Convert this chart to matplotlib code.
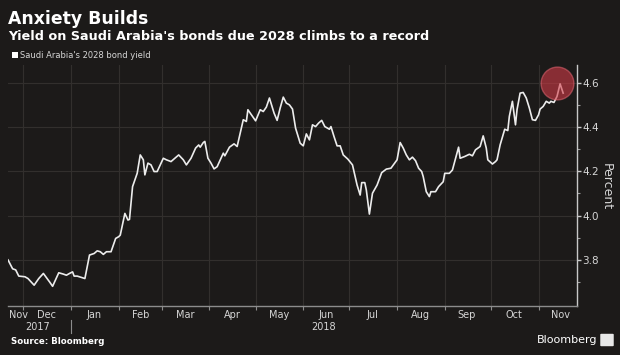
import matplotlib
matplotlib.use("Agg")
import matplotlib.pyplot as plt
import matplotlib.dates as mdates
import matplotlib.transforms as mtransforms
from matplotlib.patches import Rectangle, FancyBboxPatch
import pandas as pd

# ---------------- data ----------------
dates = [
    "2017-11-21", "2017-11-24", "2017-11-26", "2017-11-28", "2017-12-02", "2017-12-04",
    "2017-12-08", "2017-12-11", "2017-12-14", "2017-12-18", "2017-12-20", "2017-12-24",
    "2017-12-27", "2017-12-29", "2017-12-31", "2018-01-02", "2018-01-03", "2018-01-05",
    "2018-01-10", "2018-01-13", "2018-01-16", "2018-01-18", "2018-01-20", "2018-01-22",
    "2018-01-24", "2018-01-27", "2018-01-30", "2018-02-01", "2018-02-02", "2018-02-05",
    "2018-02-07", "2018-02-08", "2018-02-10", "2018-02-13", "2018-02-15", "2018-02-17",
    "2018-02-18", "2018-02-20", "2018-02-22", "2018-02-24", "2018-02-26", "2018-03-02",
    "2018-03-04", "2018-03-07", "2018-03-12", "2018-03-15", "2018-03-17", "2018-03-20",
    "2018-03-23", "2018-03-25", "2018-03-26", "2018-03-28", "2018-03-29", "2018-03-31",
    "2018-04-02", "2018-04-04", "2018-04-06", "2018-04-10", "2018-04-11", "2018-04-14",
    "2018-04-17", "2018-04-19", "2018-04-21", "2018-04-23", "2018-04-25", "2018-04-26",
    "2018-04-29", "2018-05-01", "2018-05-04", "2018-05-06", "2018-05-08", "2018-05-10",
    "2018-05-13", "2018-05-15", "2018-05-17", "2018-05-19", "2018-05-21", "2018-05-23",
    "2018-05-25", "2018-05-27", "2018-05-30", "2018-06-01", "2018-06-03", "2018-06-05",
    "2018-06-07", "2018-06-09", "2018-06-11", "2018-06-13", "2018-06-15", "2018-06-18",
    "2018-06-19", "2018-06-21", "2018-06-23", "2018-06-25", "2018-06-27", "2018-06-30",
    "2018-07-03", "2018-07-06", "2018-07-08", "2018-07-09", "2018-07-11", "2018-07-12",
    "2018-07-14", "2018-07-16", "2018-07-19", "2018-07-22", "2018-07-25", "2018-07-28",
    "2018-07-30", "2018-08-01", "2018-08-03", "2018-08-05", "2018-08-07", "2018-08-09",
    "2018-08-11", "2018-08-13", "2018-08-15", "2018-08-17", "2018-08-18", "2018-08-20",
    "2018-08-22", "2018-08-23", "2018-08-26", "2018-08-28", "2018-08-31", "2018-09-01",
    "2018-09-04", "2018-09-06", "2018-09-10", "2018-09-11", "2018-09-14", "2018-09-17",
    "2018-09-19", "2018-09-21", "2018-09-24", "2018-09-26", "2018-09-28", "2018-09-29",
    "2018-10-02", "2018-10-04", "2018-10-05", "2018-10-07", "2018-10-10", "2018-10-12",
    "2018-10-13", "2018-10-15", "2018-10-17", "2018-10-18", "2018-10-20", "2018-10-22",
    "2018-10-24", "2018-10-26", "2018-10-28", "2018-10-30", "2018-11-01", "2018-11-02",
    "2018-11-04", "2018-11-06", "2018-11-08", "2018-11-09", "2018-11-11", "2018-11-13",
    "2018-11-15", "2018-11-17",
]
yields = [
    3.800, 3.760, 3.755, 3.727, 3.724, 3.716,
    3.686, 3.716, 3.739, 3.701, 3.681, 3.742,
    3.736, 3.731, 3.739, 3.746, 3.727, 3.727,
    3.716, 3.822, 3.829, 3.841, 3.837, 3.825,
    3.837, 3.837, 3.897, 3.905, 3.912, 4.010,
    3.980, 3.983, 4.131, 4.191, 4.274, 4.252,
    4.184, 4.237, 4.229, 4.199, 4.199, 4.259,
    4.252, 4.244, 4.274, 4.252, 4.229, 4.259,
    4.305, 4.319, 4.309, 4.330, 4.335, 4.259,
    4.237, 4.211, 4.221, 4.282, 4.270, 4.309,
    4.324, 4.312, 4.372, 4.433, 4.425, 4.478,
    4.448, 4.428, 4.478, 4.470, 4.490, 4.531,
    4.463, 4.430, 4.486, 4.535, 4.508, 4.500,
    4.481, 4.395, 4.327, 4.315, 4.369, 4.342,
    4.410, 4.402, 4.418, 4.430, 4.402, 4.390,
    4.402, 4.357, 4.315, 4.315, 4.274, 4.255,
    4.229, 4.138, 4.093, 4.149, 4.149, 4.116,
    4.007, 4.101, 4.138, 4.194, 4.210, 4.214,
    4.233, 4.252, 4.330, 4.305, 4.274, 4.252,
    4.264, 4.248, 4.214, 4.199, 4.176, 4.108,
    4.086, 4.108, 4.108, 4.131, 4.153, 4.191,
    4.191, 4.206, 4.309, 4.259, 4.267, 4.277,
    4.270, 4.297, 4.312, 4.360, 4.305, 4.252,
    4.233, 4.244, 4.252, 4.319, 4.390, 4.384,
    4.448, 4.516, 4.410, 4.478, 4.553, 4.556,
    4.531, 4.486, 4.433, 4.430, 4.455, 4.481,
    4.493, 4.516, 4.508, 4.516, 4.511, 4.538,
    4.595, 4.553,
]

month_starts = ["2017-12-01", "2018-01-01", "2018-02-01", "2018-03-01", "2018-04-01",
                "2018-05-01", "2018-06-01", "2018-07-01", "2018-08-01", "2018-09-01",
                "2018-10-01", "2018-11-01"]
month_label_dates = ["2017-11-28", "2017-12-16", "2018-01-16", "2018-02-15", "2018-03-16",
                     "2018-04-16", "2018-05-16", "2018-06-16", "2018-07-16", "2018-08-16",
                     "2018-09-15", "2018-10-16", "2018-11-15"]
month_labels = ["Nov", "Dec", "Jan", "Feb", "Mar", "Apr", "May", "Jun", "Jul", "Aug",
                "Sep", "Oct", "Nov"]
year_labels = ["2017", "2018"]
year_label_dates = ["2017-12-10", "2018-06-14"]
year_break_date = "2018-01-01"

y_major = [3.8, 4.0, 4.2, 4.4, 4.6]
y_minor = [3.7, 3.9, 4.1, 4.3, 4.5]

highlight_date = "2018-11-13"
highlight_value = 4.598

title = "Anxiety Builds"
subtitle = "Yield on Saudi Arabia's bonds due 2028 climbs to a record"
legend_label = "Saudi Arabia's 2028 bond yield"
axis_label = "Percent"
source = "Source: Bloomberg"
brand = "Bloomberg"

# ---------------- style ----------------
BG = "#1c1a19"
GRID = "#322f2d"
LINE = "#ececec"
TEXT = "#d6d6d6"

W, H = 620, 355
fig = plt.figure(figsize=(W / 100, H / 100), dpi=100, facecolor=BG)
plt.rcParams["font.family"] = ["DejaVu Sans"]

ax = fig.add_axes([8 / W, 49 / H, 569 / W, 241 / H], facecolor=BG)

x = pd.to_datetime(dates)
ax.plot(x, yields, color=LINE, lw=1.2, zorder=3, solid_joinstyle="round")

ax.set_xlim(pd.Timestamp("2017-11-21"), pd.Timestamp("2018-11-26"))
ax.set_ylim(3.592, 4.68)

# x axis
ax.set_xticks(mdates.date2num(pd.to_datetime(month_starts)))
ax.set_xticklabels([])
ax.set_xticks(mdates.date2num(pd.to_datetime(month_label_dates)), minor=True)
ax.set_xticklabels(month_labels, minor=True)
ax.tick_params(axis="x", which="major", length=3, width=0.8, color="#8c8c8c", direction="out")
ax.tick_params(axis="x", which="minor", length=0, pad=3, labelsize=7, labelcolor=TEXT)

# y axis on right
ax.yaxis.tick_right()
ax.set_yticks(y_major)
ax.set_yticklabels([f"{v:.1f}" for v in y_major])
ax.set_yticks(y_minor, minor=True)
ax.tick_params(axis="y", which="major", length=3, width=1, color="#c8c8c8", pad=1,
               labelsize=7.5, labelcolor=TEXT)
ax.tick_params(axis="y", which="minor", length=2, width=0.8, color="#9a9a9a")

ax.grid(True, which="major", axis="both", color=GRID, lw=0.8)
ax.set_axisbelow(True)

for s in ["left", "top"]:
    ax.spines[s].set_visible(False)
ax.spines["right"].set_color("#c8c8c8")
ax.spines["right"].set_linewidth(1)
ax.spines["bottom"].set_color("#8c8c8c")
ax.spines["bottom"].set_linewidth(1)

# year labels and separator
trans = mtransforms.blended_transform_factory(ax.transData, ax.transAxes)
for lab, d in zip(year_labels, year_label_dates):
    ax.text(mdates.date2num(pd.Timestamp(d)), -0.087, lab, transform=trans, ha="center",
            va="center", fontsize=7, color=TEXT)
yb = mdates.date2num(pd.Timestamp(year_break_date))
ax.plot([yb, yb], [-0.058, -0.112], transform=trans, clip_on=False, color="#8c8c8c", lw=0.8)

# highlight circle
ax.scatter([pd.Timestamp(highlight_date)], [highlight_value], s=560,
           facecolor=(0.82, 0.23, 0.28, 0.6), edgecolor=(0.92, 0.42, 0.47, 0.5),
           linewidth=1.0, zorder=5)

# Percent label
fig.text(606 / W, 1 - 187 / H, axis_label, rotation=270, ha="center", va="center",
         fontsize=9, color=TEXT)

# titles
fig.text(8 / W, 1 - 24 / H, title, fontsize=12.4, fontweight="bold", color="white",
         ha="left", va="baseline")
fig.text(8 / W, 1 - 39.5 / H, subtitle, fontsize=9.2, fontweight="bold", color="white",
         ha="left", va="baseline")
fig.patches.append(Rectangle((12 / W, 1 - 57.5 / H), 5.6 / W, 5.6 / H, transform=fig.transFigure,
                             facecolor="white", edgecolor="none"))
fig.text(20 / W, 1 - 57.5 / H, legend_label, fontsize=6.0, color=TEXT, ha="left", va="baseline")

# footer
fig.text(11 / W, 1 - 341 / H, source, fontsize=6.2, fontweight="bold", color="white",
         ha="left", va="center")
fig.text(597 / W, 1 - 340 / H, brand, fontsize=8, color="white", ha="right", va="center")
fig.patches.append(FancyBboxPatch((601.5 / W, 1 - 345.5 / H), 11 / W, 11 / H,
                                  boxstyle="round,pad=0.002", transform=fig.transFigure,
                                  facecolor="#e8e8e8", edgecolor="none"))

fig.savefig("out.png", dpi=100, facecolor=BG)
